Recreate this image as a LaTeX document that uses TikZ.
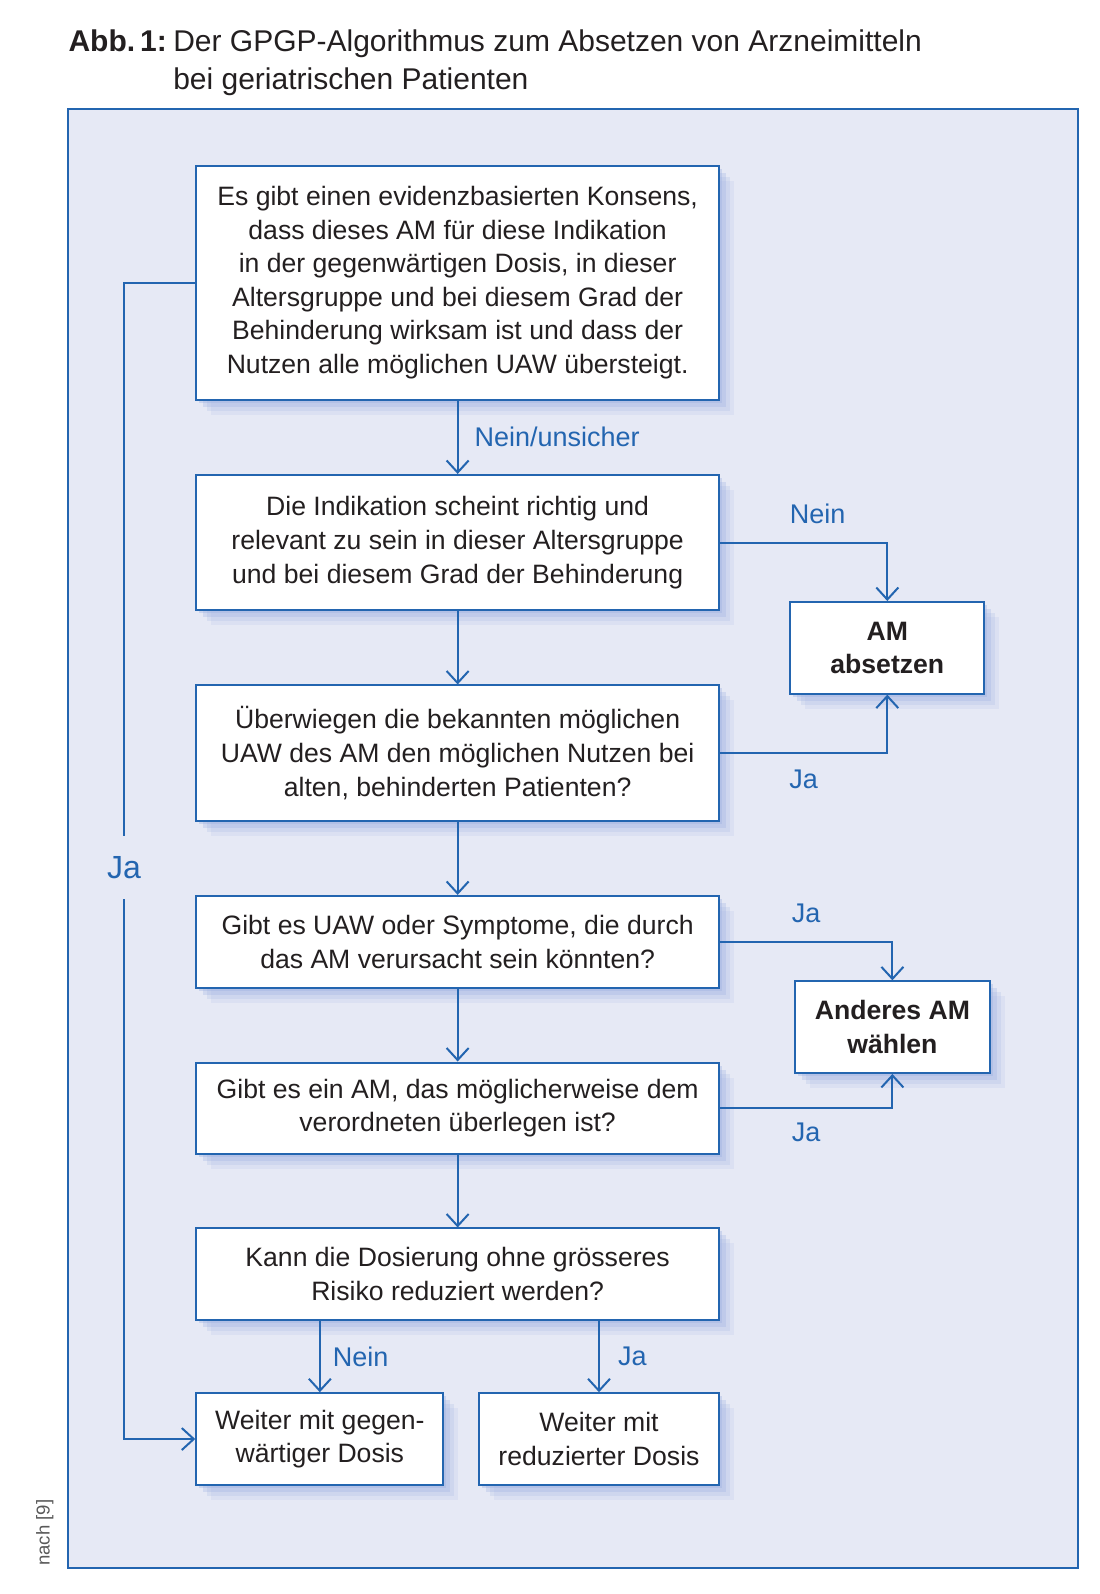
\documentclass[tikz,border=0pt]{standalone}
\usepackage{fontspec}
\setmainfont{Liberation Sans}
\usetikzlibrary{arrows.meta,shadows,positioning}

\definecolor{flowblue}{HTML}{2365B0}
\definecolor{panel}{HTML}{E6E9F5}
\definecolor{shade}{HTML}{9AAEE0}
\definecolor{ink}{HTML}{231F20}

\tikzset{
  box/.style={draw=flowblue, line width=1pt, fill=white, text=ink, align=center, inner sep=2pt,
    font=\fontsize{13.3pt}{16.8pt}\selectfont, minimum width=261.4pt,
    execute at begin node={\rule{0pt}{13.5pt}},
    general shadow={fill=shade, opacity=.14, shadow xshift=7.5pt, shadow yshift=-7.5pt},
    general shadow={fill=shade, opacity=.2, shadow xshift=5.5pt, shadow yshift=-5.5pt},
    general shadow={fill=shade, opacity=.28, shadow xshift=3.5pt, shadow yshift=-3.5pt},
    general shadow={fill=shade, opacity=.35, shadow xshift=1.5pt, shadow yshift=-1.5pt}},
  endbox/.style={box, font=\fontsize{13.3pt}{16.8pt}\selectfont\bfseries, minimum width=97.1pt},
  flow/.style={draw=flowblue, line width=1pt, -{Straight Barb[length=6pt,width=11pt]}},
  lbl/.style={text=flowblue, inner sep=0pt, font=\fontsize{13.5pt}{16pt}\selectfont},
}

\begin{document}
\begin{tikzpicture}[x=0.5085pt, y=-0.5085pt]
  \useasboundingbox (0,0) rectangle (1081.6,1567.4);

  % title
  \node[anchor=base west, text=ink, inner sep=0pt, font=\fontsize{15pt}{19.5pt}\selectfont\bfseries] (abb) at (67,51) {Abb.\,1:};
  \node[anchor=base west, text=ink, inner sep=0pt, font=\fontsize{15pt}{19.5pt}\selectfont] (title1) at (170,51) {Der GPGP-Algorithmus zum Absetzen von Arzneimitteln};
  \node[anchor=base west, text=ink, inner sep=0pt, font=\fontsize{15pt}{19.5pt}\selectfont] (title2) at (170,88) {bei geriatrischen Patienten};

  % panel
  \draw[flowblue, line width=1pt, fill=panel] (67,107) rectangle (1060,1542);
  \node[rotate=90, anchor=west, inner sep=0pt, text=black!65, font=\fontsize{9.3pt}{11pt}\selectfont] (src) at (44,1540) {nach [9]};

  % boxes
  \node[box, minimum height=117pt] (b1) at (450,278) {Es gibt einen evidenzbasierten Konsens,\\dass dieses AM für diese Indikation\\in der gegenwärtigen Dosis, in dieser\\Altersgruppe und bei diesem Grad der\\Behinderung wirksam ist und dass der\\Nutzen alle möglichen UAW übersteigt.};
  \node[box, minimum height=67.6pt] (b2) at (450,533.5) {Die Indikation scheint richtig und\\relevant zu sein in dieser Altersgruppe\\und bei diesem Grad der Behinderung};
  \node[box, minimum height=67.6pt] (b3) at (450,740.5) {Überwiegen die bekannten möglichen\\UAW des AM den möglichen Nutzen bei\\alten, behinderten Patienten?};
  \node[box, minimum height=45.8pt] (b4) at (450,926) {Gibt es UAW oder Symptome, die durch\\das AM verursacht sein könnten?};
  \node[box, minimum height=45.5pt] (b5) at (450,1089.5) {Gibt es ein AM, das möglicherweise dem\\verordneten überlegen ist?};
  \node[box, minimum height=45.8pt] (b6) at (450,1253) {Kann die Dosierung ohne grösseres\\Risiko reduziert werden?};
  \node[box, minimum height=45.8pt, minimum width=123.6pt] (b7) at (314.5,1415) {Weiter mit gegen-\\wärtiger Dosis};
  \node[box, minimum height=45.8pt, minimum width=120pt] (b8) at (589,1415) {Weiter mit\\reduzierter Dosis};
  \node[endbox, minimum height=45.8pt] (stop) at (872.5,637) {AM\\absetzen};
  \node[endbox, minimum height=45.8pt] (other) at (877.5,1010) {Anderes AM\\wählen};

  % connectors
  \draw[flow] (b1) -- (b2) node[lbl, midway, right=8pt] {Nein/unsicher};
  \draw[flow] (b2) -- (b3);
  \draw[flow] (b3) -- (b4);
  \draw[flow] (b4) -- (b5);
  \draw[flow] (b5) -- (b6);
  \draw[flow] (b2.east) -| (stop.north) node[lbl, pos=0.25, above=9pt, xshift=7pt] {Nein};
  \draw[flow] (b3.east) -| (stop.south) node[lbl, pos=0.25, below=8pt] {Ja};
  \draw[flow] (b4.east) -| (other.north) node[lbl, pos=0.25, above=9pt] {Ja};
  \draw[flow] (b5.east) -| (other.south) node[lbl, pos=0.25, below=7pt] {Ja};
  \draw[flow] (b7.north |- b6.south) -- (b7.north) node[lbl, midway, right=6pt] {Nein};
  \draw[flow] (b8.north |- b6.south) -- (b8.north) node[lbl, midway, right=9pt] {Ja};

  % Ja loop on the left
  \node[lbl, inner xsep=0pt, inner ysep=10pt, font=\fontsize{16pt}{18pt}\selectfont] (jaloop) at (122,853) {Ja};
  \draw[flowblue, line width=1pt] (b1.west) -| (jaloop.north);
  \draw[flow] (jaloop.south) |- (b7.west);
\end{tikzpicture}
\end{document}
